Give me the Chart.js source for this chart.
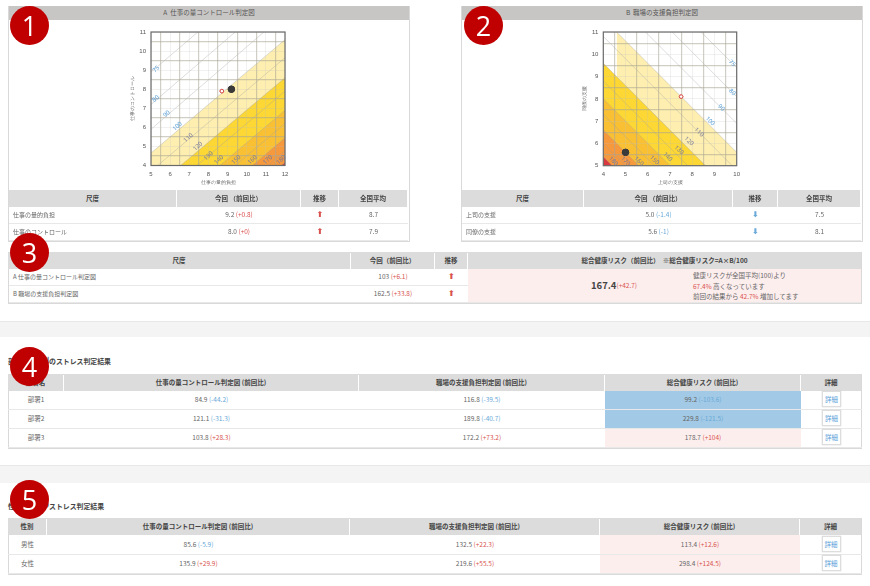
<!DOCTYPE html>
<html lang="ja">
<head>
<meta charset="utf-8">
<title>ストレス判定図</title>
<script src="https://cdn.jsdelivr.net/npm/chart.js@4/dist/chart.umd.min.js"></script>
<style>
  html, body { margin: 0; padding: 0; background: #fff; }
  body { width: 870px; height: 586px; position: relative; overflow: hidden; filter: blur(0.4px);
    font-family: "Noto Sans CJK JP", "Noto Sans", sans-serif; font-size: 6.5px; color: #666; }
  .box, .cell, .band, .badge, .title, canvas { position: absolute; }
  .box { border: 1px solid #d9d9d9; box-sizing: border-box; }
  .cell { display: flex; align-items: center; justify-content: center; box-sizing: border-box;
    border-bottom: 1.5px solid #e8e8e8; white-space: pre; padding-bottom: 1.5px; }
  .head { background: #dcdcdc; color: #444; font-weight: 700; border-bottom: 0; }
  .left { justify-content: flex-start; padding-left: 4px; font-size: 6px; }
  .plot-head { background: #c8c6c4; color: #555; border-bottom: 0; }
  .pink { background: #fdeeee; }
  .blue { background: #a2c9e5; }
  .up { color: #d8534f; }
  .down { color: #6aa9d8; }
  .arrow { font: 700 8px "DejaVu Sans", sans-serif; }
  .band { left: 0; width: 870px; background: #f4f4f4; border-top: 1px solid #e8e8e8; box-sizing: border-box; }
  .badge { width: 39px; height: 39px; border-radius: 50%; background: #c00000; color: #fff;
    display: flex; align-items: center; justify-content: center;
    font: 400 27px/18px "Open Sans", sans-serif; z-index: 5; }
  .title { font-weight: 700; color: #444; font-size: 6.9px; white-space: pre; }
  .btn { width: 19px; height: 16px; border: 1px solid #ddd; box-shadow: 0 0 1px #bbb; background: #fff;
    color: #5aa0d8; display: flex; align-items: center; justify-content: center; box-sizing: border-box; }
  .risk-num { font-size: 9.5px; font-weight: 700; color: #444; }
  .note { position: absolute; line-height: 10.5px; color: #666; }
</style>
</head>
<body>
<canvas id="chartA" width="170" height="166" style="left:128px;top:22px"></canvas>
<canvas id="chartB" width="170" height="166" style="left:580px;top:22px"></canvas>
<script>
// Chart A: quantity / control
const aTitle = "A  仕事の量コントロール判定図";
const aXLabel = "仕事の量的負担";
const aYLabel = "仕事のコントロール";
const aCurrentX = [9.2], aCurrentY = [8.0];
const aNationalX = [8.7], aNationalY = [7.9];
const aBandX = [[5, 12], [6.55, 12], [8.6, 12], [10.3, 12], [11.8, 12]];
const aBandY = [[4.65, 10.6], [4, 8.6], [4, 6.9], [4, 5.45], [4, 4.15]];
const aLineX = [[5, 7.45], [5, 9.4], [5, 10.9], [5, 12], [5.35, 12], [6.55, 12], [7.4, 12], [8.6, 12], [9.4, 12], [10.3, 12], [11.1, 12], [11.8, 12]];
const aLineY = [[8.9, 11], [7.2, 11], [5.9, 11], [4.65, 10.6], [4, 9.65], [4, 8.6], [4, 7.9], [4, 6.9], [4, 6.2], [4, 5.45], [4, 4.75], [4, 4.15]];
const aLabelX = [5.27, 5.25, 5.82, 6.38, 6.95, 7.45, 8.0, 8.55, 9.45, 10.3, 11.1, 11.8];
const aLabelY = [9.05, 7.5, 6.7, 6.05, 5.45, 5.0, 4.5, 4.3, 4.3, 4.3, 4.3, 4.3];

// Chart B: supervisor / coworker support
const bTitle = "B  職場の支援負担判定図";
const bXLabel = "上司の支援";
const bYLabel = "同僚の支援";
const bCurrentX = [5.0], bCurrentY = [5.6];
const bNationalX = [7.5], bNationalY = [8.1];
const bBandX = [[4.6, 10], [4, 8.6], [4, 7], [4, 5.6], [4, 4.4]];
const bBandY = [[11, 5.6], [9.6, 5], [8, 5], [6.6, 5], [5.4, 5]];
const bLineX = [[8.4, 10], [7.1, 10], [5.9, 10], [4.6, 10], [4, 9.8], [4, 8.6], [4, 7.8], [4, 7], [4, 6.3], [4, 5.6], [4, 5], [4, 4.4]];
const bLineY = [[11, 9.4], [11, 8.1], [11, 6.9], [11, 5.6], [10.8, 5], [9.6, 5], [8.8, 5], [8, 5], [7.3, 5], [6.6, 5], [6, 5], [5.4, 5]];
const bLabelX = [9.8, 9.8, 9.3, 8.8, 8.3, 7.85, 7.4, 6.9, 6.3, 5.6, 5.0, 4.45];
const bLabelY = [9.6, 8.3, 7.6, 7.0, 6.5, 6.1, 5.7, 5.4, 5.25, 5.2, 5.2, 5.2];

const contourTexts = ["75", "80", "90", "100", "110", "120", "130", "140", "150", "160", "170", "180"];
const bandColors = ["#feefb0", "#fdd733", "#fac034", "#f6983c", "#d8383f"];

// Table contents
const measureHeaders = ["尺度", "今回 （前回比）", "推移", "全国平均"];
const aMeasures = ["仕事の量的負担", "仕事のコントロール"];
const aValues = ["9.2", "8.0"];
const aDiffs = ["+0.8", "+0"];
const aNational = ["8.7", "7.9"];
const bMeasures = ["上司の支援", "同僚の支援"];
const bValues = ["5.0", "5.6"];
const bDiffs = ["-1.4", "-1"];
const bNational = ["7.5", "8.1"];

const summaryHeaders = ["尺度", "今回（前回比）", "推移", "総合健康リスク（前回比）　※総合健康リスク=A×B/100"];
const summaryNames = ["A 仕事の量コントロール判定図", "B 職場の支援負担判定図"];
const summaryValues = ["103", "162.5"];
const summaryDiffs = ["+6.1", "+33.8"];

const groupHeaders = ["仕事の量コントロール判定図 (前回比)", "職場の支援負担判定図 (前回比)", "総合健康リスク (前回比)", "詳細"];
const deptNames = ["部署1", "部署2", "部署3"];
const deptQuantity = ["84.9", "121.1", "103.8"];
const deptQuantityDiff = ["-44.2", "-31.3", "+28.3"];
const deptSupport = ["116.8", "189.8", "172.2"];
const deptSupportDiff = ["-39.5", "-40.7", "+73.2"];
const deptRisk = ["99.2", "229.8", "178.7"];
const deptRiskDiff = ["-103.6", "-121.5", "+104"];
const deptRiskTone = ["blue", "blue", "pink"];

const sexNames = ["男性", "女性"];
const sexQuantity = ["85.6", "135.9"];
const sexQuantityDiff = ["-5.9", "+29.9"];
const sexSupport = ["132.5", "219.6"];
const sexSupportDiff = ["+22.3", "+55.5"];
const sexRisk = ["113.4", "298.4"];
const sexRiskDiff = ["+12.6", "+124.5"];

function addEl(cls, x, y, w, h, html) {
  const el = document.createElement("div");
  el.className = cls;
  el.style.left = x + "px";
  el.style.top = y + "px";
  if (w) el.style.width = w + "px";
  if (h) el.style.height = h + "px";
  el.innerHTML = html || "";
  document.body.appendChild(el);
  return el;
}

function diffText(value, diff) {
  const cls = diff.startsWith("-") ? "down" : "up";
  return `${value} <span class="${cls}">(${diff})</span>`;
}

function arrow(diff) {
  return diff.startsWith("-") ? '<span class="arrow down">⬇</span>' : '<span class="arrow up">⬆</span>';
}

function addHeader(edges, y, h, texts) {
  texts.forEach((t, i) => {
    addEl("cell head", edges[i], y, edges[i + 1] - edges[i] - 1, h, t);
  });
}

function addDetail(edges, y, h) {
  const col = edges.length - 2;
  const cell = addEl("cell", edges[col], y, edges[col + 1] - edges[col], h);
  const btn = document.createElement("div");
  btn.className = "btn";
  btn.textContent = "詳細";
  cell.appendChild(btn);
}

// Panels A and B: frame, grey heading and measure table
function drawPanel(x, edges, title, names, values, diffs, national) {
  addEl("box", x, 6, 402, 236);
  addEl("cell plot-head", x + 1, 6, 400, 14, title);
  addHeader(edges, 190, 17, measureHeaders);
  names.forEach((name, i) => {
    const y = 207 + i * 17;
    addEl("cell left", edges[0], y, edges[1] - edges[0], 17, name);
    addEl("cell", edges[1], y, edges[2] - edges[1], 17, diffText(values[i], diffs[i]));
    addEl("cell", edges[2], y, edges[3] - edges[2], 17, arrow(diffs[i]));
    addEl("cell", edges[3], y, edges[4] - edges[3], 17, national[i]);
  });
}

drawPanel(8, [9, 177, 301, 339, 408], aTitle, aMeasures, aValues, aDiffs, aNational);
drawPanel(461, [462, 584, 733, 778, 861], bTitle, bMeasures, bValues, bDiffs, bNational);

// Summary table
const summaryEdges = [8, 351, 435, 468, 862];
addEl("box", 8, 252, 854, 52);
addHeader(summaryEdges, 252, 17, summaryHeaders);
summaryNames.forEach((name, i) => {
  const y = 269 + i * 17;
  addEl("cell left", 9, y, 342, 17, name);
  addEl("cell", 351, y, 84, 17, diffText(summaryValues[i], summaryDiffs[i]));
  addEl("cell", 435, y, 33, 17, arrow(summaryDiffs[i]));
});
addEl("cell pink", 468, 269, 393, 34);
const riskText = addEl("cell", 584, 279, 60, 14, '<span class="risk-num">167.4</span> <span class="up">(+42.7)</span>');
riskText.style.borderBottom = "0";
addEl("note", 693, 270, 130, 33,
  '健康リスクが全国平均(100)より<br><span class="up">67.4%</span> 高くなっています<br>前回の結果から <span class="up">42.7%</span> 増加してます');

// Section bands
addEl("band", 0, 321, 870, 16);
addEl("band", 0, 465, 870, 18);

// Section titles run under the badge: keep the covered characters clear of its digit
function addTitle(y, head, middle, tail) {
  addEl("title", 8, y, 0, 0, head);
  const covered = addEl("title", 49 - middle.length * 5.5, y, 0, 0, middle);
  covered.style.fontSize = "5.5px";
  addEl("title", 49, y, 0, 0, tail);
}

// Department table
const deptEdges = [8, 64, 359, 605, 801, 862];
addTitle(356, "部署", "別", "のストレス判定結果");
addEl("box", 8, 374, 854, 75);
addHeader(deptEdges, 374, 17, ["部署名"].concat(groupHeaders));
deptNames.forEach((name, i) => {
  const y = 391 + i * 19;
  addEl("cell", deptEdges[0], y, 56, 19, name);
  addEl("cell", deptEdges[1], y, 295, 19, diffText(deptQuantity[i], deptQuantityDiff[i]));
  addEl("cell", deptEdges[2], y, 246, 19, diffText(deptSupport[i], deptSupportDiff[i]));
  addEl("cell " + deptRiskTone[i], deptEdges[3], y, 196, 19, diffText(deptRisk[i], deptRiskDiff[i]));
  addDetail(deptEdges, y, 19);
});

// Sex table
const sexEdges = [8, 47, 350, 600, 800, 862];
addTitle(501, "性", "別の", "ストレス判定結果");
addEl("box", 8, 518, 854, 57);
addHeader(sexEdges, 518, 17, ["性別"].concat(groupHeaders));
sexNames.forEach((name, i) => {
  const y = 535 + i * 19.5;
  addEl("cell", sexEdges[0], y, 39, 19.5, name);
  addEl("cell", sexEdges[1], y, 303, 19.5, diffText(sexQuantity[i], sexQuantityDiff[i]));
  addEl("cell", sexEdges[2], y, 250, 19.5, diffText(sexSupport[i], sexSupportDiff[i]));
  addEl("cell pink", sexEdges[3], y, 200, 19.5, diffText(sexRisk[i], sexRiskDiff[i]));
  addDetail(sexEdges, y, 19.5);
});

// Numbered badges
addEl("badge", 10, 6, 0, 0, "1");
addEl("badge", 464, 6, 0, 0, "2");
addEl("badge", 10, 233, 0, 0, "3");
addEl("badge", 10, 347, 0, 0, "4");
addEl("badge", 10, 480, 0, 0, "5");

function toPoints(xs, ys) {
  return xs.map((x, i) => ({ x: x, y: ys[i] }));
}

// Frame, rotated contour labels, then the two points again so the grid stays under them
const contourPlugin = {
  id: "contourLabels",
  afterDraw(chart, args, opts) {
    const { ctx, chartArea, scales } = chart;
    ctx.save();
    ctx.strokeStyle = "#6a6a6a";
    ctx.lineWidth = 1.2;
    ctx.strokeRect(chartArea.left, chartArea.top, chartArea.width, chartArea.height);
    ctx.font = '6px "Noto Sans", sans-serif';
    ctx.textAlign = "center";
    ctx.textBaseline = "middle";
    contourTexts.forEach((text, i) => {
      ctx.save();
      ctx.translate(scales.x.getPixelForValue(opts.x[i]), scales.y.getPixelForValue(opts.y[i]));
      ctx.rotate(opts.angle);
      ctx.fillStyle = i < 4 ? "#5a9fd6" : "#76799c";
      ctx.fillText(text, 0, 0);
      ctx.restore();
    });
    ctx.restore();
    [0, 1].forEach((i) => chart.getDatasetMeta(i).data.forEach((p) => p.draw(ctx)));
  },
};

function makeRiskChart(id, cfg) {
  const axis = (title, min, max, pad) => ({
    type: "linear",
    min: min,
    max: max,
    title: { display: true, text: title, color: "#666", font: { size: 5.2 }, padding: pad },
    ticks: {
      stepSize: 0.5,
      autoSkip: false,
      maxRotation: 0,
      color: "#555",
      font: { size: 6 },
      padding: 5,
      callback: (v) => (Number.isInteger(v) ? v : ""),
    },
    grid: {
      z: 1,
      drawTicks: false,
      color: (c) => (Number.isInteger(c.tick.value) ? "rgba(190,190,190,.28)" : "rgba(170,165,150,.55)"),
      lineWidth: (c) => (Number.isInteger(c.tick.value) ? 0.8 : 1.2),
    },
    border: { display: false },
  });

  const datasets = [
    { data: toPoints(cfg.currentX, cfg.currentY), pointRadius: 3.2, pointBackgroundColor: "#3a3a3a", pointBorderColor: "#3a3a3a", order: 0 },
    { data: toPoints(cfg.nationalX, cfg.nationalY), pointRadius: 1.8, pointBorderWidth: 1, pointBackgroundColor: "#fff", pointBorderColor: "#d8534f", order: 0 },
  ];
  cfg.bandX.forEach((xs, i) => {
    datasets.push({
      data: toPoints(xs, cfg.bandY[i]),
      showLine: true,
      borderWidth: 0,
      pointRadius: 0,
      backgroundColor: bandColors[i],
      fill: "start",
      order: 20 - i,
    });
  });
  cfg.lineX.forEach((xs, i) => {
    datasets.push({
      data: toPoints(xs, cfg.lineY[i]),
      showLine: true,
      borderColor: "rgba(160,160,160,.45)",
      borderWidth: 0.8,
      pointRadius: 0,
      order: 5,
    });
  });

  const xAxis = axis(cfg.xLabel, cfg.xMin, cfg.xMax, { top: 0, bottom: 2 });
  xAxis.afterFit = (s) => { s.height = cfg.bottom; };
  const yAxis = axis(cfg.yLabel, cfg.yMin, cfg.yMax, { top: 1, bottom: 0 });
  yAxis.afterFit = (s) => { s.width = cfg.left; };

  return new Chart(document.getElementById(id).getContext("2d"), {
    type: "scatter",
    data: { datasets: datasets },
    plugins: [contourPlugin],
    options: {
      responsive: false,
      animation: false,
      layout: { padding: { top: 10, right: cfg.right } },
      scales: { x: xAxis, y: yAxis },
      plugins: {
        legend: { display: false },
        tooltip: { enabled: false },
        contourLabels: { x: cfg.labelX, y: cfg.labelY, angle: cfg.angle },
      },
    },
  });
}

makeRiskChart("chartA", {
  currentX: aCurrentX, currentY: aCurrentY, nationalX: aNationalX, nationalY: aNationalY,
  bandX: aBandX, bandY: aBandY, lineX: aLineX, lineY: aLineY, labelX: aLabelX, labelY: aLabelY,
  xLabel: aXLabel, yLabel: aYLabel, xMin: 5, xMax: 12, yMin: 4, yMax: 11,
  left: 23, right: 13, bottom: 22.5, angle: -0.72,
});
makeRiskChart("chartB", {
  currentX: bCurrentX, currentY: bCurrentY, nationalX: bNationalX, nationalY: bNationalY,
  bandX: bBandX, bandY: bBandY, lineX: bLineX, lineY: bLineY, labelX: bLabelX, labelY: bLabelY,
  xLabel: bXLabel, yLabel: bYLabel, xMin: 4, xMax: 10, yMin: 5, yMax: 11,
  left: 23.3, right: 13.3, bottom: 22.3, angle: 0.78,
});
</script>
</body>
</html>
